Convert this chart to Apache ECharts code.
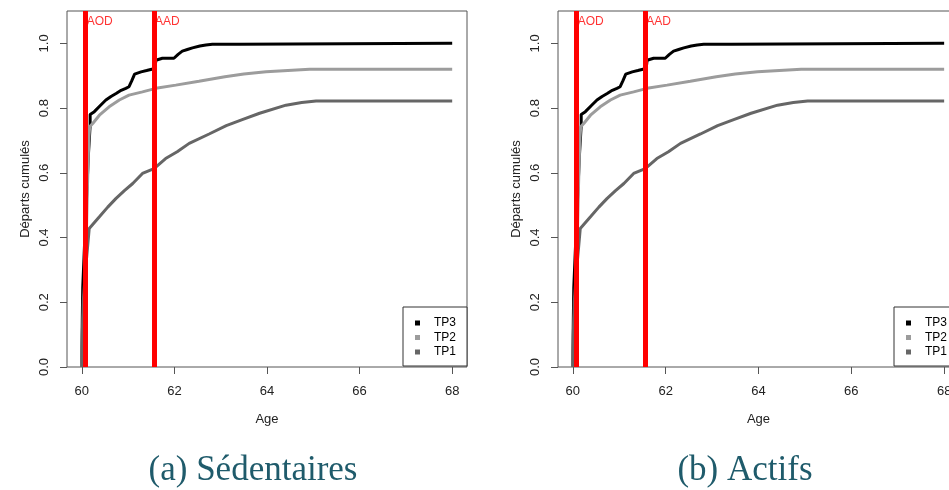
<!DOCTYPE html>
<html><head><meta charset="utf-8">
<script src="https://cdn.jsdelivr.net/npm/echarts@6/dist/echarts.min.js"></script>
<style>html,body{margin:0;padding:0;background:#fff;overflow:hidden}#c{width:965px;height:490px}</style>
</head><body><div id="c"></div>
<script>
const xTicks = [60, 62, 64, 66, 68];
const yTicks = [0, 0.2, 0.4, 0.6, 0.8, 1.0];
const seriesNames = ['TP3', 'TP2', 'TP1'];
const captions = ['(a) Sédentaires', '(b) Actifs'];
const markerNames = ['AOD', 'AAD'];
const markerAges = [60.083, 61.56];

const tp3Age = [60.00, 60.01, 60.02, 60.08, 60.14, 60.18, 60.18, 60.27, 60.40, 60.52, 60.63, 60.74, 60.85, 60.95, 61.02, 61.08, 61.14, 61.28, 61.40, 61.51, 61.58, 61.60, 61.74, 61.99, 62.08, 62.17, 62.28, 62.39, 62.55, 62.68, 62.82, 63.41, 63.42, 68.0];
const tp3Val = [0, 0.145, 0.246, 0.45, 0.65, 0.747, 0.780, 0.789, 0.808, 0.825, 0.836, 0.845, 0.855, 0.861, 0.866, 0.885, 0.905, 0.912, 0.916, 0.920, 0.922, 0.948, 0.954, 0.954, 0.966, 0.976, 0.981, 0.986, 0.992, 0.995, 0.997, 0.997, 1.0, 1.0];

const tp2Age = [60.00, 60.03, 60.08, 60.12, 60.15, 60.17, 60.24, 60.38, 60.59, 60.81, 61.02, 61.31, 61.60, 62.03, 62.53, 63.09, 63.50, 63.98, 64.45, 64.92, 68.0];
const tp2Val = [0, 0.15, 0.29, 0.55, 0.70, 0.742, 0.753, 0.778, 0.804, 0.825, 0.840, 0.850, 0.861, 0.871, 0.883, 0.897, 0.905, 0.912, 0.916, 0.920, 0.920];

const tp1Age = [60.00, 60.01, 60.03, 60.08, 60.13, 60.16, 60.38, 60.56, 60.74, 60.92, 61.10, 61.31, 61.56, 61.81, 62.06, 62.32, 62.75, 63.12, 63.48, 63.84, 64.41, 64.75, 65.06, 68.0];
const tp1Val = [0, 0.10, 0.20, 0.30, 0.38, 0.428, 0.464, 0.494, 0.521, 0.545, 0.567, 0.598, 0.613, 0.644, 0.665, 0.691, 0.720, 0.746, 0.765, 0.784, 0.809, 0.817, 0.822, 0.822];

const FONT = 'Liberation Sans';
const seriesAges = [tp3Age, tp2Age, tp1Age];
const seriesVals = [tp3Val, tp2Val, tp1Val];
const seriesColors = ['#000000', '#9c9c9c', '#666666'];

function pairs(a, v) { return a.map((x, i) => [x, v[i]]); }

const grids = [
  { left: 67, top: 11, width: 400, height: 356 },
  { left: 558, top: 11, width: 401, height: 356 }
];
const legendLeft = [403, 894];
const captionX = [253, 745];

const option = {
  animation: false,
  backgroundColor: '#ffffff',
  grid: grids.map(g => Object.assign({ show: true, borderColor: '#555', borderWidth: 1, backgroundColor: 'transparent' }, g)),
  xAxis: grids.map((g, i) => ({
    type: 'value', gridIndex: i, min: 59.68, max: 68.32,
    name: 'Age', nameLocation: 'middle', nameGap: 46,
    nameTextStyle: { fontFamily: FONT, fontSize: 13, color: '#222' },
    axisLine: { show: false },
    splitLine: { show: false },
    axisTick: { show: true, customValues: xTicks, length: 7, lineStyle: { color: '#555' } },
    axisLabel: { show: true, customValues: xTicks, margin: 18, fontFamily: FONT, fontSize: 13, color: '#222' }
  })),
  yAxis: grids.map((g, i) => ({
    type: 'value', gridIndex: i, min: 0, max: 1.1,
    name: 'Départs cumulés', nameLocation: 'middle', nameGap: 35,
    nameTextStyle: { fontFamily: FONT, fontSize: 13, color: '#222' },
    axisLine: { show: false },
    splitLine: { show: false },
    axisTick: { show: true, customValues: yTicks, length: 7, lineStyle: { color: '#555' } },
    axisLabel: { show: true, customValues: yTicks, rotate: 90, margin: 16, fontFamily: FONT, fontSize: 13, color: '#222', formatter: v => v.toFixed(1) }
  })),
  legend: legendLeft.map(l => ({
    orient: 'vertical', left: l, top: 307, icon: 'rect', itemWidth: 5, itemHeight: 5, itemGap: 2.5,
    padding: [10, 11, 8, 12], borderColor: '#333', borderWidth: 1, borderRadius: 0,
    backgroundColor: '#fff', selectedMode: false, data: seriesNames,
    textStyle: { fontFamily: FONT, fontSize: 12, color: '#000', lineHeight: 12, padding: [0, 0, 0, 9] }
  })),
  graphic: captions.map((t, i) => ({
    type: 'text', x: captionX[i], y: 471, z: 10,
    style: { text: t, fontFamily: 'Liberation Serif', fontSize: 35, fill: '#1f5b6b', textAlign: 'center', textVerticalAlign: 'middle' }
  })),
  series: []
};

grids.forEach((g, gi) => {
  seriesNames.forEach((n, si) => {
    option.series.push({
      type: 'line', name: n, xAxisIndex: gi, yAxisIndex: gi,
      data: pairs(seriesAges[si], seriesVals[si]),
      showSymbol: false, symbol: 'none', z: 2,
      lineStyle: { color: seriesColors[si], width: 3 },
      itemStyle: { color: seriesColors[si] }
    });
  });
  option.series.push({
    type: 'line', name: 'lines', xAxisIndex: gi, yAxisIndex: gi, z: 4, data: [],
    markLine: {
      silent: true, symbol: ['none', 'none'], label: { show: false },
      lineStyle: { color: '#ff0000', width: 5, type: 'solid' },
      data: markerAges.map(a => ({ xAxis: a }))
    }
  });
  option.series.push({
    type: 'scatter', name: 'markers', xAxisIndex: gi, yAxisIndex: gi, z: 8,
    symbolSize: 0, silent: true,
    data: markerAges.map((a, k) => ({ value: [a, 1.067], name: markerNames[k] })),
    label: { show: true, position: 'right', distance: 1, formatter: p => p.name, fontFamily: FONT, fontSize: 12, color: '#ff0000' }
  });
});

const chart = echarts.init(document.getElementById('c'), null, { renderer: 'canvas' });
chart.setOption(option);
</script>
</body></html>
